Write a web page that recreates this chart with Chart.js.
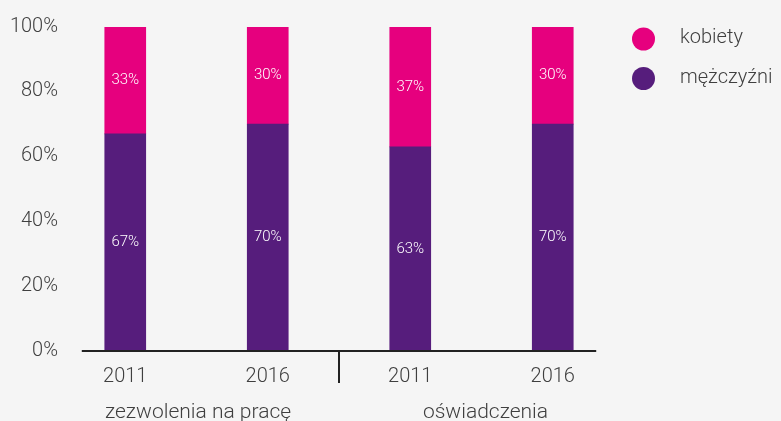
<!DOCTYPE html>
<html>
<head>
<meta charset="utf-8">
<script src="https://cdn.jsdelivr.net/npm/chart.js@4.4.1/dist/chart.umd.min.js"></script>
<style>
  html, body { margin: 0; padding: 0; background: #f5f5f5; }
  #wrap { width: 781px; height: 421px; }
</style>
</head>
<body>
<div id="wrap"><canvas id="chart" width="781" height="421"></canvas></div>
<script>
// data
var years = ['2011', '2016', '2011', '2016'];
var groups = ['zezwolenia na pracę', 'oświadczenia'];
var kobiety = [33, 30, 37, 30];
var mezczyzni = [67, 70, 63, 70];
var yTicks = [0, 20, 40, 60, 80, 100];

var pink = '#e6007e';
var purple = '#561d7c';
var textColor = '#3f3f3f';
var fontFamily = 'Roboto, "Open Sans", sans-serif';

// white percentage labels in the middle of each bar segment
var barLabels = {
	id: 'barLabels',
	afterDatasetsDraw: function(chart) {
		var ctx = chart.ctx;
		ctx.save();
		ctx.fillStyle = '#ffffff';
		ctx.font = '300 15px ' + fontFamily;
		ctx.textAlign = 'center';
		ctx.textBaseline = 'middle';
		chart.data.datasets.forEach(function(ds, i) {
			chart.getDatasetMeta(i).data.forEach(function(bar, j) {
				var p = bar.getCenterPoint();
				ctx.fillText(ds.data[j] + '%', p.x, p.y);
			});
		});
		ctx.restore();
	}
};

// y labels, base line, group divider, group names and legend
var extras = {
	id: 'extras',
	afterDraw: function(chart) {
		var ctx = chart.ctx;
		var x = chart.scales.x;
		var y = chart.scales.y;
		var step = x.getPixelForValue(1) - x.getPixelForValue(0);
		var base = y.getPixelForValue(0);
		ctx.save();

		ctx.fillStyle = textColor;
		ctx.font = '300 20px ' + fontFamily;
		ctx.textAlign = 'right';
		ctx.textBaseline = 'middle';
		yTicks.forEach(function(v) {
			ctx.fillText(v + '%', 58, y.getPixelForValue(v) - 0.5);
		});

		ctx.strokeStyle = '#222222';
		ctx.lineWidth = 2;
		ctx.beginPath();
		ctx.moveTo(x.getPixelForValue(0) - step * 0.305, base);
		ctx.lineTo(x.getPixelForValue(3) + step * 0.305, base);
		var mid = (x.getPixelForValue(1) + x.getPixelForValue(2)) / 2;
		ctx.moveTo(mid, base);
		ctx.lineTo(mid, base + 32);
		ctx.stroke();

		// group names under the years
		ctx.font = '300 21px ' + fontFamily;
		ctx.textAlign = 'center';
		ctx.textBaseline = 'alphabetic';
		ctx.fillText(groups[0], (x.getPixelForValue(0) + x.getPixelForValue(1)) / 2 + 1.5, 418);
		ctx.fillText(groups[1], (x.getPixelForValue(2) + x.getPixelForValue(3)) / 2 + 4, 418);

		// legend
		ctx.font = '300 20px ' + fontFamily;
		var items = [chart.data.datasets[1], chart.data.datasets[0]];
		items.forEach(function(ds, i) {
			var cy = 39 + i * 39.5;
			ctx.fillStyle = ds.backgroundColor;
			ctx.beginPath();
			ctx.arc(643.5, cy, 11.5, 0, Math.PI * 2);
			ctx.fill();
			ctx.fillStyle = textColor;
			ctx.textAlign = 'left';
			ctx.textBaseline = 'middle';
			ctx.fillText(ds.label, 680, cy - 1);
		});
		ctx.restore();
	}
};

var ctx = document.getElementById('chart').getContext('2d');
var myChart = new Chart(ctx, {
	type: 'bar',
	data: {
		labels: years,
		datasets: [{
			label: 'mężczyźni',
			data: mezczyzni,
			backgroundColor: purple,
			barThickness: 41
		}, {
			label: 'kobiety',
			data: kobiety,
			backgroundColor: pink,
			barThickness: 41
		}]
	},
	options: {
		responsive: false,
		animation: false,
		layout: { padding: { top: 27, right: 157, left: 0, bottom: 0 } },
		plugins: {
			legend: { display: false },
			tooltip: { enabled: false }
		},
		scales: {
			x: {
				stacked: true,
				grid: { display: false, drawTicks: false },
				border: { display: false },
				afterFit: function(scale) { scale.height = 70; },
				ticks: {
					padding: 14,
					color: textColor,
					font: { family: fontFamily, size: 20, weight: 300 }
				}
			},
			y: {
				stacked: true,
				min: 0,
				max: 100,
				grid: { display: false, drawTicks: false },
				border: { display: false },
				afterFit: function(scale) { scale.width = 54; },
				ticks: { display: false }
			}
		}
	},
	plugins: [barLabels, extras]
});
</script>
</body>
</html>
